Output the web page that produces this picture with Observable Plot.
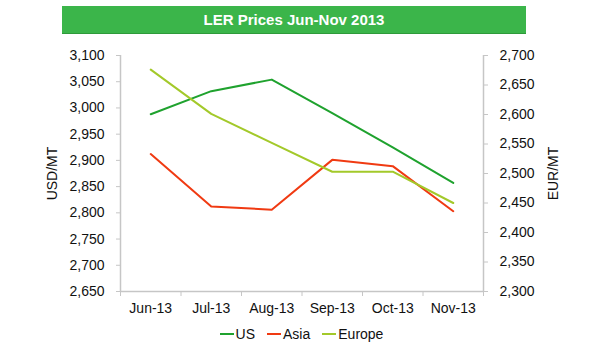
<!DOCTYPE html>
<html>
<head>
<meta charset="utf-8">
<script src="https://cdn.jsdelivr.net/npm/d3@7"></script>
<script src="https://cdn.jsdelivr.net/npm/@observablehq/plot@0.6"></script>
<style>
  body { margin: 0; background: #fff; font-family: "Liberation Sans", Arial, sans-serif; }
  #wrap { width: 615px; }
  #head { position: relative; height: 40px; }
  #title { position: absolute; left: 62px; top: 6px; width: 464px; height: 27px; background: #3bb54a;
           color: #fff; font-weight: bold; font-size: 15px; line-height: 27px; text-align: center;
           box-shadow: 0 1px 0 #2e9a3a; }
  #legend { margin-left: 120px; width: 363px; height: 24px; display: flex; justify-content: center; align-items: center;
            font-size: 14px; color: #111; }
  .item { display: flex; align-items: center; margin: 0 6px; }
  .sw { display: inline-block; width: 14px; height: 2px; margin-right: 2px; }
</style>
</head>
<body>
<div id="wrap">
  <div id="head"><div id="title">LER Prices Jun-Nov 2013</div></div>
  <div id="chart"></div>
  <div id="legend"></div>
</div>
<script>
const months = ["Jun-13", "Jul-13", "Aug-13", "Sep-13", "Oct-13", "Nov-13"];
const us = [2988, 3032, 3054, 2990, 2925, 2857];
const asia = [2912, 2812, 2806, 2901, 2889, 2803];
const europe = [2676, 2601, 2552, 2503, 2503, 2450]; // EUR/MT, right axis
const leftTicks = [2650, 2700, 2750, 2800, 2850, 2900, 2950, 3000, 3050, 3100];
const rightTicks = [2300, 2350, 2400, 2450, 2500, 2550, 2600, 2650, 2700];
const seriesNames = ["US", "Asia", "Europe"];
const seriesColors = ["#1fa22e", "#f03a12", "#a3c92a"];

// map right-axis (EUR) values onto left (USD) scale
const toLeft = e => 2650 + (e - 2300) * (450 / 400);
const toRight = u => 2300 + (u - 2650) * (400 / 450);

const rows = [];
months.forEach((m, i) => {
  rows.push({series: "US", i, v: us[i]});
  rows.push({series: "Asia", i, v: asia[i]});
  rows.push({series: "Europe", i, v: toLeft(europe[i])});
});

const fmt = d3.format(",");
const axisGray = "#c6c6c6";

const chart = Plot.plot({
  width: 615,
  height: 282,
  marginTop: 15,
  marginBottom: 31,
  marginLeft: 120,
  marginRight: 132,
  style: {fontFamily: "Liberation Sans, Arial, sans-serif", fontSize: "14px", color: "#111", background: "#fff"},
  x: {type: "linear", domain: [-0.5, 5.5]},
  y: {domain: [2650, 3100]},
  color: {domain: seriesNames, range: seriesColors},
  marks: [
    Plot.ruleX([-0.5, 5.5], {stroke: axisGray, strokeWidth: 1.5}),
    Plot.ruleY([2650], {stroke: axisGray, strokeWidth: 1.5}),
    Plot.axisY({ticks: leftTicks, tickFormat: fmt, tickSize: 4, tickPadding: 12, stroke: axisGray, fill: "#111", label: null}),
    Plot.axisY({anchor: "right", ticks: rightTicks.map(toLeft), tickFormat: d => fmt(Math.round(toRight(d))),
                tickSize: 4, tickPadding: 12, stroke: axisGray, fill: "#111", label: null}),
    Plot.axisX({ticks: d3.range(-0.5, 6, 1), tickSize: 5, tickFormat: () => "", stroke: axisGray, label: null}),
    Plot.axisX({ticks: d3.range(0, 6), tickSize: 0, tickPadding: 12, tickFormat: i => months[i], fill: "#111", label: null}),
    Plot.text(["USD/MT"], {frameAnchor: "left", dx: -68, rotate: -90, textAnchor: "middle", fontSize: 14, fill: "#111"}),
    Plot.text(["EUR/MT"], {frameAnchor: "right", dx: 70, rotate: -90, textAnchor: "middle", fontSize: 14, fill: "#111"}),
    Plot.line(rows, {x: "i", y: "v", z: "series", stroke: "series", strokeWidth: 2, curve: "linear"})
  ]
});
document.getElementById("chart").appendChild(chart);

const legend = document.getElementById("legend");
seriesNames.forEach((n, k) => {
  const it = document.createElement("span");
  it.className = "item";
  it.innerHTML = `<span class="sw" style="background:${seriesColors[k]}"></span>${n}`;
  legend.appendChild(it);
});
</script>
</body>
</html>
